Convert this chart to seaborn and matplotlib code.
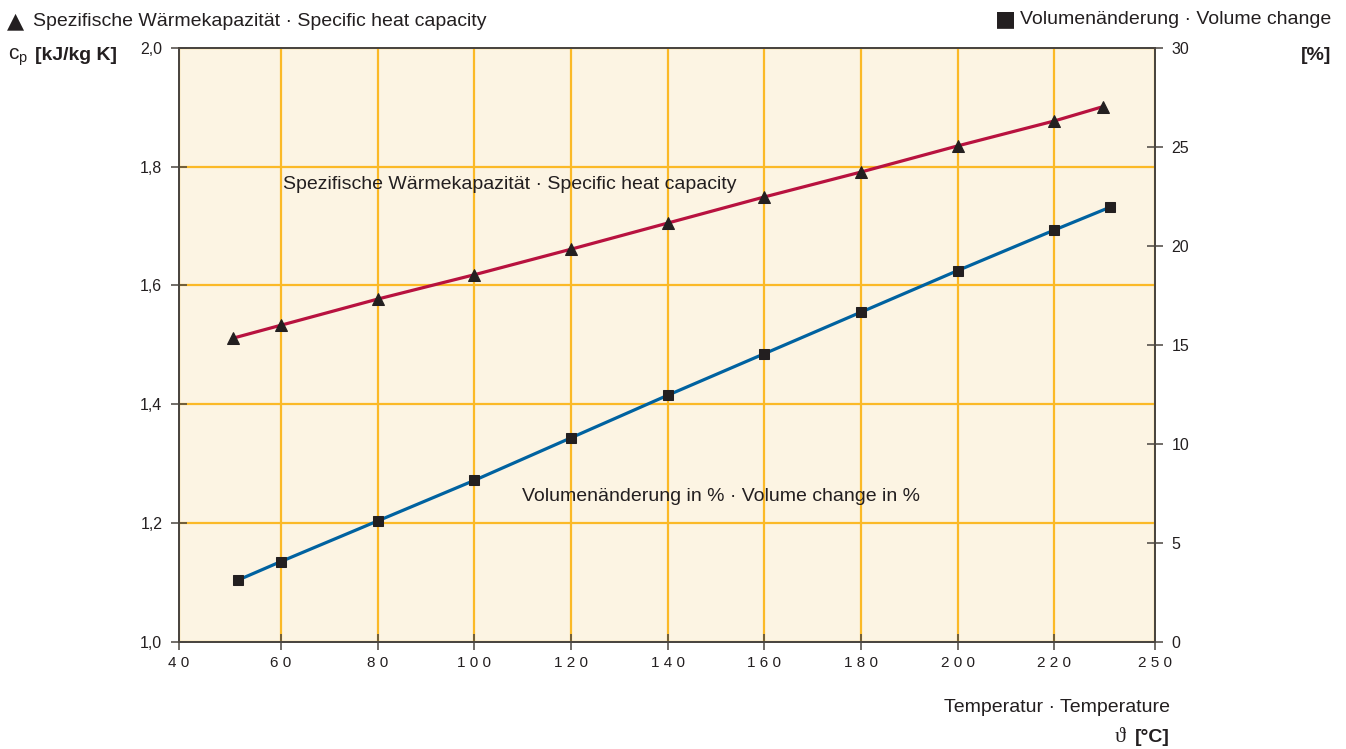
import matplotlib
matplotlib.use("Agg")
import matplotlib.pyplot as plt
import seaborn as sns
import pandas as pd

# ---- data ----
temp_cp = [50, 60, 80, 100, 120, 140, 160, 180, 200, 220, 230]
cp_values = [1.511, 1.533, 1.577, 1.618, 1.661, 1.705, 1.749, 1.791, 1.835, 1.877, 1.901]
temp_vol = [51, 60, 80, 100, 120, 140, 160, 180, 200, 220, 231.5]
vol_values = [3.1, 4.05, 6.1, 8.15, 10.3, 12.45, 14.55, 16.65, 18.75, 20.8, 21.95]

x_labels = ["40", "60", "80", "100", "120", "140", "160", "180", "200", "220", "250"]
cp_ticks = [1.0, 1.2, 1.4, 1.6, 1.8, 2.0]
cp_labels = ["1,0", "1,2", "1,4", "1,6", "1,8", "2,0"]
vol_ticks = [0, 5, 10, 15, 20, 25, 30]

title_cp = "Spezifische Wärmekapazität · Specific heat capacity"
title_vol = "Volumenänderung · Volume change"
curve_cp = "Spezifische Wärmekapazität · Specific heat capacity"
curve_vol = "Volumenänderung in % · Volume change in %"
xlabel1 = "Temperatur · Temperature"

sns.set_theme(style="white")
plt.rcParams["font.family"] = ["Liberation Sans", "DejaVu Sans"]
plt.rcParams["mathtext.fontset"] = "custom"
plt.rcParams["mathtext.rm"] = "Liberation Sans"

BG = "#FCF4E3"
GRID = "#FBB927"
RED = "#B8123F"
BLUE = "#0062A0"
MK = "#231F20"
SPINE = "#4A4540"
TXT = "#231F20"

df_cp = pd.DataFrame({"T": temp_cp, "cp": cp_values})
df_vol = pd.DataFrame({"T": temp_vol, "vol": vol_values})

fig = plt.figure(figsize=(13.46, 7.49), dpi=100)
ax = fig.add_axes([0.133, 0.1433, 0.725, 0.7927])
ax.set_facecolor(BG)

xmin, xmax = 38.9, 240.8
ax.set_xlim(xmin, xmax)
ax.set_ylim(1.0, 2.0)

xticks = [xmin] + [60 + 20 * i for i in range(9)] + [xmax]
ax.set_xticks(xticks)
ax.set_xticklabels([" ".join(s) for s in x_labels], fontsize=11, color=TXT)
ax.set_yticks(cp_ticks)
ax.set_yticklabels(cp_labels, fontsize=11.5, color=TXT)

ax.grid(True, color=GRID, linewidth=1.6, zorder=0)
ax.set_axisbelow(True)

sns.lineplot(data=df_cp, x="T", y="cp", ax=ax, color=RED, linewidth=2.3,
             marker="^", markersize=8, markerfacecolor=MK, markeredgecolor=MK,
             zorder=3)
ax.set_xlabel("")
ax.set_ylabel("")

ax2 = ax.twinx()
ax2.set_ylim(0, 30)
ax2.set_yticks(vol_ticks)
ax2.set_yticklabels([str(v) for v in vol_ticks], fontsize=11.5, color=TXT)
sns.lineplot(data=df_vol, x="T", y="vol", ax=ax2, color=BLUE, linewidth=2.3,
             marker="s", markersize=6.5, markerfacecolor=MK, markeredgecolor=MK,
             zorder=3)
ax2.set_xlabel("")
ax2.set_ylabel("")
ax2.set_xlim(xmin, xmax)
ax2.grid(False)

for a in (ax, ax2):
    for sp in a.spines.values():
        sp.set_color(SPINE)
        sp.set_linewidth(1.3)
        sp.set_visible(True)
ax.tick_params(axis="both", direction="inout", length=12, width=1.1, color=SPINE,
               left=True, bottom=True, pad=6)
ax.tick_params(axis="x", pad=4)
ax2.tick_params(axis="y", direction="inout", length=12, width=1.1, color=SPINE,
                right=True, pad=6)

# curve labels inside the plot
ax.text(60.4, 1.77, curve_cp, fontsize=14, color=TXT, ha="left", va="center", zorder=5)
ax.text(109.9, 1.245, curve_vol, fontsize=14, color=TXT, ha="left", va="center", zorder=5)

# header texts
fam = ["Liberation Sans", "DejaVu Sans"]
fig.text(7 / 1346, 1 - 21 / 749, "▲", fontsize=16, color=TXT, ha="left", va="center", family=["DejaVu Sans"])
fig.text(33 / 1346, 1 - 21 / 749, title_cp, fontsize=14, color=TXT, ha="left", va="center", family=fam)
fig.text(1331 / 1346, 1 - 19 / 749, title_vol, fontsize=14, color=TXT, ha="right", va="center", family=fam)
fig.text(1016 / 1346, 1 - 19 / 749, "■", fontsize=16, color=TXT, ha="right", va="center", family=["DejaVu Sans"])
fig.text(1331 / 1346, 1 - 55 / 749, "[%]", fontsize=14, color=TXT, ha="right", va="center",
         fontweight="bold", family=fam)
fig.text(8 / 1346, 1 - 57 / 749, r"$\mathregular{c_p}$", fontsize=15, color=TXT, ha="left", va="center")
fig.text(35 / 1346, 1 - 56 / 749, "[kJ/kg K]", fontsize=14, color=TXT, ha="left", va="center",
         fontweight="bold", family=fam)

# x-axis title
fig.text(1170 / 1346, 1 - 707 / 749, xlabel1, fontsize=14, color=TXT, ha="right", va="center", family=fam)
fig.text(1170 / 1346, 1 - 737 / 749, "[°C]", fontsize=14, color=TXT, ha="right", va="center",
         fontweight="bold", family=fam)
fig.text(1126 / 1346, 1 - 737 / 749, "ϑ", fontsize=16, color=TXT, ha="right", va="center",
         family=["Liberation Serif", "DejaVu Serif"])

fig.savefig("out.png", dpi=100, facecolor="white")
